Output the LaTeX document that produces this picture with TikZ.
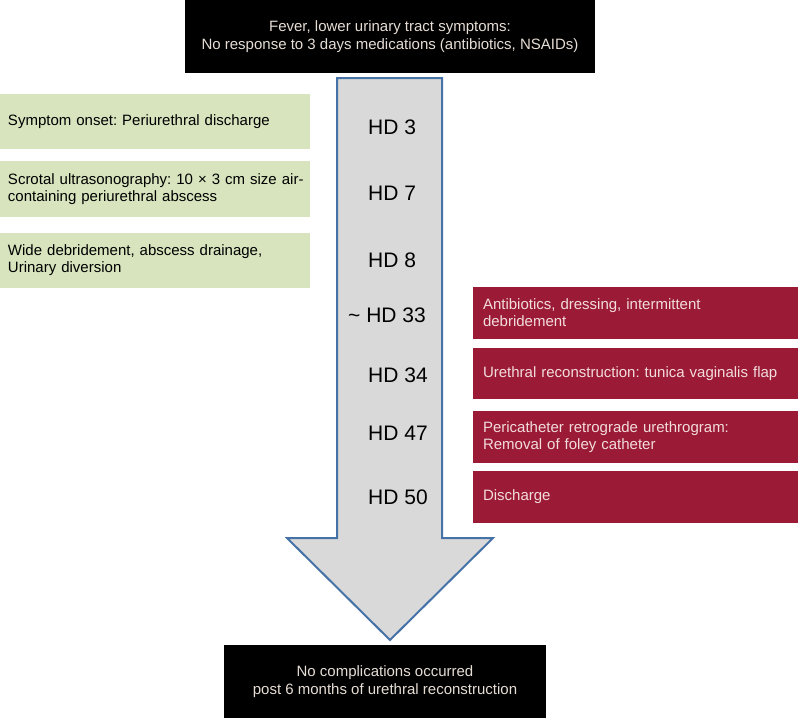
\documentclass[tikz,border=0pt]{standalone}
\usepackage{fontspec}
\setmainfont{Liberation Sans}
\frenchspacing
\definecolor{boxgreen}{HTML}{D7E4BD}
\definecolor{boxred}{HTML}{9B1B37}
\definecolor{redtext}{HTML}{F2DCDC}
\definecolor{blacktext}{HTML}{E6DDD5}
\definecolor{arrowfill}{HTML}{D9D9D9}
\definecolor{arrowline}{HTML}{4572A7}
\begin{document}
\begin{tikzpicture}[x=1pt,y=-1pt,
  blackbox/.style={fill=black,text=blacktext,align=center,inner sep=0pt,
    minimum height=73pt,font=\fontsize{15}{18.5}\selectfont},
  greenbox/.style={fill=boxgreen,text=black,align=left,inner xsep=8pt,inner ysep=0pt,
    minimum width=310pt,text width=294pt,minimum height=55pt,font=\fontsize{15}{17}\selectfont},
  redbox/.style={fill=boxred,text=redtext,align=left,inner xsep=10pt,inner ysep=0pt,
    minimum width=325pt,text width=305pt,minimum height=52pt,font=\fontsize{15}{17}\selectfont},
  hd/.style={anchor=west,font=\fontsize{21}{24}\selectfont,inner sep=0pt}]
\useasboundingbox (0,0) rectangle (800,718);
% block arrow
\draw[fill=arrowfill,draw=arrowline,line width=2pt,line join=miter]
  (337,78) -- (442,78) -- (442,538) -- (493,538) -- (390,640) -- (287,538) -- (337,538) -- cycle;
% black boxes
\node[blackbox,minimum width=410pt] (top) at (390,36.5)
  {Fever, lower urinary tract symptoms:\\No response to 3 days medications (antibiotics, NSAIDs)};
\node[blackbox,minimum width=322pt] (bottom) at (385,681.5)
  {No complications occurred\\post 6 months of urethral reconstruction};
% green boxes
\node[greenbox] (g1) at (155,121.5) {Symptom onset: Periurethral discharge};
\node[greenbox,minimum height=56pt] (g2) at (155,189) {\mbox{Scrotal ultrasonography: 10 × 3 cm size air-}\\containing periurethral abscess};
\node[greenbox] (g3) at (155,260.5) {Wide debridement, abscess drainage,\\Urinary diversion};
% red boxes
\node[redbox] (r1) at (635.5,313) {Antibiotics, dressing, intermittent\\debridement};
\node[redbox,minimum height=51pt] (r2) at (635.5,373.5) {Urethral reconstruction: tunica vaginalis flap};
\node[redbox] (r3) at (635.5,437) {Pericatheter retrograde urethrogram:\\Removal of foley catheter};
\node[redbox] (r4) at (635.5,497) {Discharge};
% HD labels
\node[hd] (h3) at (368,127) {HD 3};
\node[hd] (h7) at (368,193) {HD 7};
\node[hd] (h8) at (368,260) {HD 8};
\node[hd] (h33) at (348,315) {\textasciitilde\ HD 33};
\node[hd] (h34) at (368,375) {HD 34};
\node[hd] (h47) at (368,433) {HD 47};
\node[hd] (h50) at (368,497) {HD 50};
\end{tikzpicture}
\end{document}
